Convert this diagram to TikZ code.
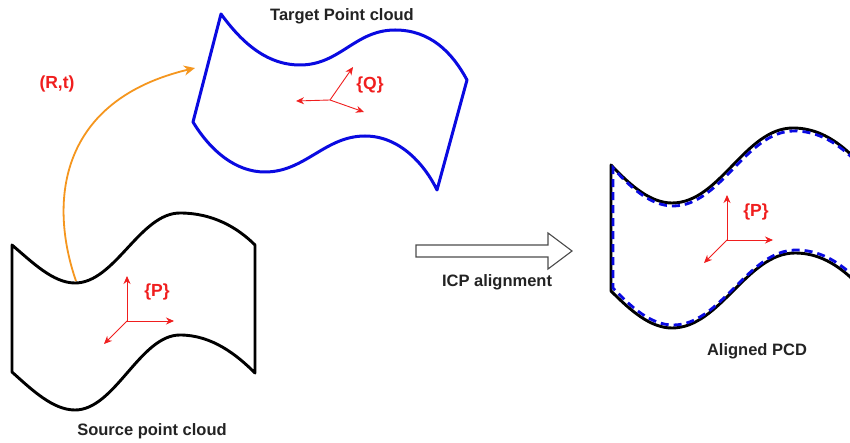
\documentclass[tikz,border=0pt]{standalone}
\usepackage{fontspec}
\setmainfont{Liberation Sans}
\usetikzlibrary{arrows.meta}
\definecolor{axred}{RGB}{240,30,30}
\definecolor{shapeblue}{RGB}{10,10,225}
\definecolor{arcorange}{RGB}{245,150,30}
\definecolor{txtdark}{RGB}{35,35,35}
\tikzset{
  cloudblack/.style={draw=black, line width=2.9pt, line join=round},
  cloudblue/.style={draw=shapeblue, line width=3pt, line join=round},
  clouddash/.style={draw=shapeblue, line width=2.8pt, dash pattern=on 8pt off 5pt},
  axis/.style={draw=axred, line width=0.9pt, -{Stealth[length=8pt,width=7pt]}},
  framelabel/.style={text=axred, font=\bfseries\fontsize{17.5}{20}\selectfont, inner sep=0pt},
  caption/.style={text=txtdark, font=\bfseries\fontsize{16.5}{19}\selectfont, inner sep=0pt},
  motion/.style={draw=arcorange, line width=1.8pt, -{Stealth[length=11pt,width=10pt]}},
  blockarrow/.style={draw=black!70, line width=1.1pt, fill=white, line join=miter}
}
\begin{document}
\begin{tikzpicture}[x=1pt,y=-1pt]
\useasboundingbox (0,0) rectangle (850,443);
\fill[white] (0,0) rectangle (850,443);

% Source point cloud (black)
\draw[cloudblack] (12,245) .. controls (32,262) and (53,283) .. (75,283)
  .. controls (115,283) and (140,213) .. (180,213)
  .. controls (212,213) and (237,227) .. (255,245)
  -- (255,373)
  .. controls (237,355) and (212,335) .. (180,335)
  .. controls (140,335) and (115,410) .. (75,410)
  .. controls (53,410) and (32,390) .. (12,372) -- cycle;

% Target point cloud (blue)
\draw[cloudblue] (221,14) .. controls (240,40) and (265,65) .. (300,65)
  .. controls (340,65) and (355,30) .. (395,30)
  .. controls (430,30) and (452,52) .. (467,80)
  -- (437,190)
  .. controls (425,165) and (400,136) .. (365,136)
  .. controls (325,136) and (305,172) .. (265,172)
  .. controls (235,172) and (210,150) .. (193,122) -- cycle;

% Aligned PCD (clipped at right edge)
\begin{scope}
\clip (0,0) rectangle (850,443);
\draw[cloudblack] (880,185) .. controls (860,165) and (835,128) .. (793,128)
  .. controls (745,128) and (720,203) .. (672,203)
  .. controls (650,203) and (630,185) .. (611,165)
  -- (611,291)
  .. controls (630,310) and (650,328) .. (672,328)
  .. controls (720,328) and (747,253) .. (795,253)
  .. controls (837,253) and (862,290) .. (882,310);
\draw[clouddash] (881,188) .. controls (861,168) and (836,131) .. (794,131)
  .. controls (746,131) and (721,206) .. (673,206)
  .. controls (651,206) and (631,188) .. (613,168)
  -- (613,288)
  .. controls (631,307) and (651,325) .. (673,325)
  .. controls (721,325) and (748,250) .. (796,250)
  .. controls (838,250) and (863,287) .. (883,307);
\end{scope}

% ICP block arrow
\draw[blockarrow] (416,245) -- (548,245) -- (548,233) -- (572,251)
  -- (548,269) -- (548,257) -- (416,257) -- cycle;
\node[caption] (icp) at (497,282) {ICP alignment};

% Motion arrow (R,t)
\coordinate (srcpt) at (76,281);
\coordinate (tgtpt) at (195,68);
\draw[motion] (srcpt) .. controls (48,200) and (60,100) .. (tgtpt);
\node[framelabel] (rt) at (57,84) {(R,t)};

% Frame P (source)
\coordinate (po) at (127,321);
\coordinate (pu) at (127,276);
\coordinate (pr) at (174,321);
\coordinate (pd) at (104,344);
\draw[axis] (po) -- (pu);
\draw[axis] (po) -- (pr);
\draw[axis] (po) -- (pd);
\node[framelabel] (plab) at (157,292) {\{P\}};

% Frame Q (target)
\coordinate (qo) at (330,100);
\coordinate (ql) at (296,101);
\coordinate (qu) at (353,67);
\coordinate (qr) at (364,112);
\draw[axis] (qo) -- (ql);
\draw[axis] (qo) -- (qu);
\draw[axis] (qo) -- (qr);
\node[framelabel] (qlab) at (370,85) {\{Q\}};

% Frame P (aligned)
\coordinate (ao) at (727,240);
\coordinate (au) at (727,195);
\coordinate (ar) at (773,240);
\coordinate (ad) at (704,263);
\draw[axis] (ao) -- (au);
\draw[axis] (ao) -- (ar);
\draw[axis] (ao) -- (ad);
\node[framelabel] (alab) at (756,212) {\{P\}};

% Captions
\node[caption] (tcap) at (342,16) {Target Point cloud};
\node[caption] (scap) at (152,431) {Source point cloud};
\node[caption] (acap) at (757,351) {Aligned PCD};
\end{tikzpicture}
\end{document}
